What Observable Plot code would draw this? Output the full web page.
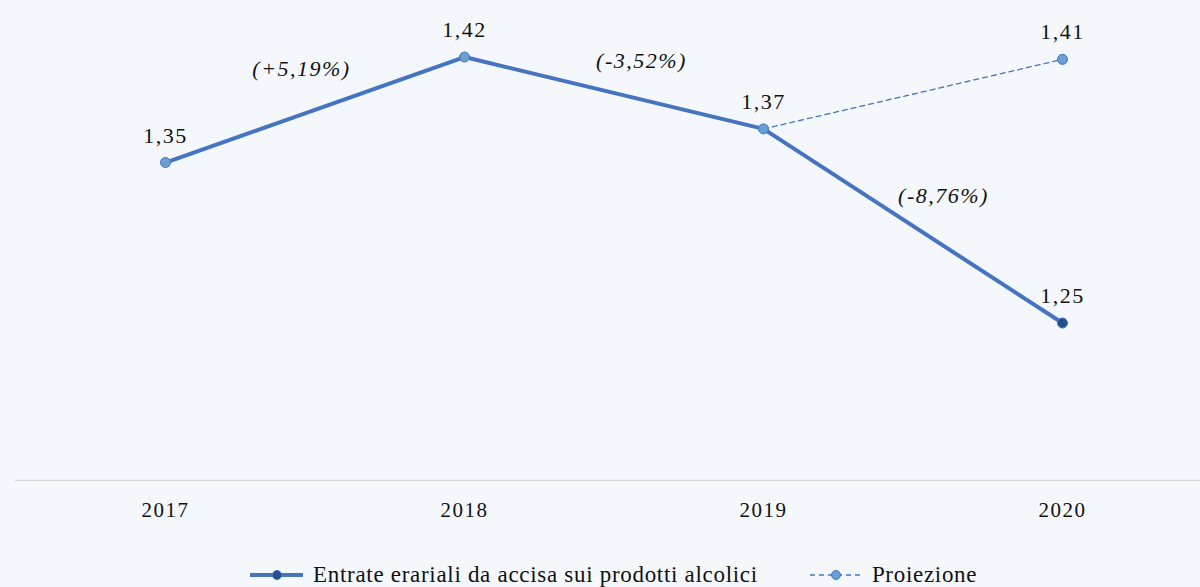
<!DOCTYPE html>
<html><head><meta charset="utf-8">
<script src="https://cdn.jsdelivr.net/npm/d3@7"></script>
<script src="https://cdn.jsdelivr.net/npm/@observablehq/plot@0.6"></script>
<style>
html,body{margin:0;padding:0;background:#f4f8fc;}
#chart{width:1200px;height:587px;overflow:hidden;background:#f4f8fc;font-family:"Liberation Serif",serif;}
#chart svg text{letter-spacing:1.5px;}
.legend{display:flex;align-items:center;height:42px;padding-top:9px;padding-left:250px;font-size:23px;letter-spacing:0.7px;color:#111;white-space:nowrap;}
.item{display:flex;align-items:center;margin-right:51px;}
.item svg{margin-right:10px;}
</style></head><body><div id="chart"></div>
<script>
const years = [2017, 2018, 2019, 2020];
const entrate = [1.351, 1.420, 1.373, 1.246];
const entrateLabels = ["1,35", "1,42", "1,37", "1,25"];
const projYears = [2019, 2020];
const proiezione = [1.373, 1.4185];
const projLabels = ["", "1,41"];
const changeLabels = ["(+5,19%)", "(-3,52%)", "(-8,76%)"];
const seriesNames = ["Entrate erariali da accisa sui prodotti alcolici", "Proiezione"];

const main = years.map((y, i) => ({year: y, value: entrate[i], label: entrateLabels[i], last: i === years.length - 1}));
const proj = projYears.map((y, i) => ({year: y, value: proiezione[i], label: projLabels[i]}));
const changes = changeLabels.map((t, i) => ({year: years[i], mid: (entrate[i] + entrate[i + 1]) / 2, text: t}));

const blue = "#4674c0", dotFill = "#6a9fd2", dark = "#23508a";
const yMin = 1.143, yMax = 1.457;

const plot = Plot.plot({
  width: 1200, height: 545,
  marginTop: 0, marginBottom: 65, marginLeft: 15, marginRight: 0,
  style: {background: "#f4f8fc", fontFamily: "'Liberation Serif', serif", color: "#111"},
  x: {type: "point", domain: years, range: [15, 1211], padding: 0.5, label: null},
  y: {domain: [yMin, yMax], axis: null},
  marks: [
    Plot.ruleY([yMin], {stroke: "#d9d9d9", strokeWidth: 1.5}),
    Plot.axisX({tickSize: 0, tickPadding: 22, fontSize: 21, label: null, tickFormat: d => String(d)}),
    Plot.line(proj, {x: "year", y: "value", stroke: blue, strokeWidth: 1.3, strokeDasharray: "5,4"}),
    Plot.line(main, {x: "year", y: "value", stroke: blue, strokeWidth: 4}),
    Plot.dot(proj.slice(1), {x: "year", y: "value", r: 5, fill: dotFill, stroke: blue, strokeWidth: 1}),
    Plot.dot(main, {x: "year", y: "value", r: 5, fill: d => d.last ? dark : dotFill, stroke: blue, strokeWidth: 1}),
    Plot.text(main, {x: "year", y: "value", text: "label", dy: -20, lineAnchor: "bottom", fontSize: 22, fill: "#111"}),
    Plot.text(proj, {x: "year", y: "value", text: "label", dy: -20, lineAnchor: "bottom", fontSize: 22, fill: "#111"}),
    Plot.text(changes.slice(0, 1), {x: "year", y: "mid", text: "text", dx: 136, dy: -41, fontSize: 22, fontStyle: "italic", fill: "#111"}),
    Plot.text(changes.slice(1, 2), {x: "year", y: "mid", text: "text", dx: 177, dy: -32, fontSize: 22, fontStyle: "italic", fill: "#111"}),
    Plot.text(changes.slice(2, 3), {x: "year", y: "mid", text: "text", dx: 180, dy: -30, fontSize: 22, fontStyle: "italic", fill: "#111"})
  ]
});

const chart = document.getElementById("chart");
chart.appendChild(plot);

const legend = document.createElement("div");
legend.className = "legend";
legend.innerHTML = `
<div class="item"><svg width="53" height="12"><line x1="1" y1="6" x2="52" y2="6" stroke="${blue}" stroke-width="4" stroke-linecap="round"/><circle cx="27" cy="6" r="4.5" fill="${dark}" stroke="${blue}"/></svg><span>${seriesNames[0]}</span></div>
<div class="item"><svg width="53" height="12"><line x1="1" y1="6" x2="52" y2="6" stroke="${blue}" stroke-width="1.3" stroke-dasharray="5,4"/><circle cx="27" cy="6" r="4.5" fill="${dotFill}" stroke="${blue}"/></svg><span>${seriesNames[1]}</span></div>`;
chart.appendChild(legend);
</script>
</body></html>
